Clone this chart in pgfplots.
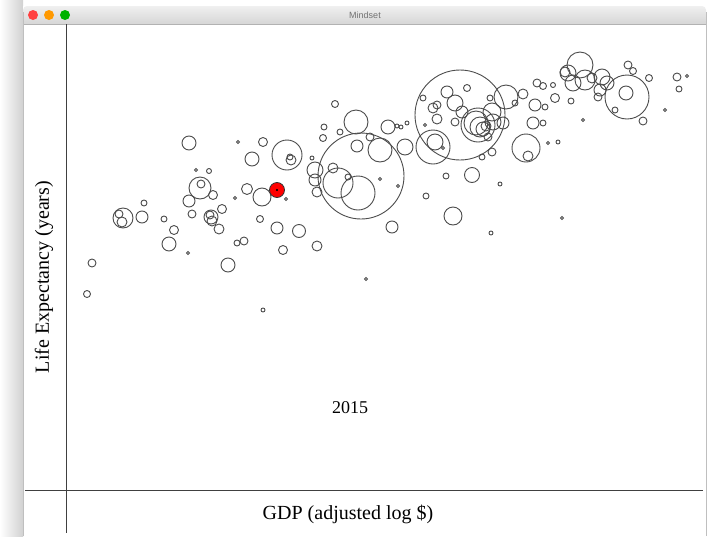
\documentclass[border=0pt]{standalone}
\usepackage{pgfplots}
\pgfplotsset{compat=1.18}
\usepackage{pgfplotstable}
\usepackage{fontspec}
\setmainfont{Liberation Serif}
\newfontfamily\uifont{Liberation Sans}

% bubbles: position (screen px) and radius (px)
\pgfplotstableread{
x y r
87 294 3.5
92 263 4
123 218 10
119 214 4
122 222 5
142 217 6
144 203 3
164 219 3
174 230 4.5
169 244 7
188 253 1.5
192 214 4
189 201 6
200 188 11
201 184 4
213 195 4.5
211 217 7
210 215 4
212 221 5
222 209 4.5
219 229 5
228 265 7
189 143 7
196 170 1.5
209 171 2.5
238 142 1.5
235 198 1.5
247 189 5.5
262 197 9
286 199 1.5
252 159 7
263 142 4.5
287 155 15
291 160 5
290 157 3
260 219 3.5
277 228 6
299 231 6.5
237 243 3
244 241 4
283 250 4.5
317 246 5
263 310 2
366 279 1.5
392 227 6
335 104 3.5
356 122 12
324 127 3
340 132 3
323 138 3.5
357 146 6
361 176 43
338 183 15
358 193 17
315 170 8
315 180 6
312 158 2
317 192 5
333 168 5
348 177 3
380 179 1.5
398 186 1.5
388 127 7
380 150 12
370 137 4
397 126 2
401 127 2
407 123 2
405 147 8
426 196 3
446 176 3
472 175 7.5
453 216 9
500 184 2
491 233 2
562 218 1.5
433 147 17
435 142 8
443 148 1.5
425 125 1.5
460 115 45
447 92 6
467 88 3.5
423 98 3
437 105 4
433 108 5
455 103 8
437 119 5
455 122 4
462 112 6
478 125 17
476 123 12
480 127 10
483 129 7
486 126 5
492 112 9
506 97 12
493 122 8
503 123 6
488 137 4
492 152 4
482 157 3
490 98 3
523 94 5
515 103 3
535 105 6
533 123 6
543 123 3
526 148 14
528 156 5
537 83 4
543 86 3.5
555 98 4.5
571 101 3
553 85 2.5
545 107 3
548 143 1.5
558 142 2
583 120 1.5
580 65 13
568 73 8
565 72 5
585 80 10
573 83 8
602 77 8
607 83 7
600 90 6
598 97 4
592 78 5
627 97 22
626 93 7
628 65 4
633 71 3.5
649 78 3.5
677 77 4
687 76 1.5
679 89 3
615 110 3
643 121 4
665 110 1.5
}\bubbles

\begin{document}
\begin{tikzpicture}
\begin{axis}[
    width=710pt, height=536pt, scale only axis,
    xmin=0, xmax=710, ymin=0, ymax=536,
    y dir=reverse,
    hide axis, clip=false,
]
% desktop + window
\fill[white] (axis cs:0,0) rectangle (axis cs:710,536);
\shade[left color=white, right color=black!18] (axis cs:0,0) rectangle (axis cs:23,536);
\fill[white] (axis cs:23,6) rectangle (axis cs:706,536);
\shade[top color=black!6, bottom color=black!16]
    (axis cs:23,24) [rounded corners=4pt] -- (axis cs:23,6) -- (axis cs:706,6) [sharp corners] -- (axis cs:706,24) -- cycle;
\draw[black!30] (axis cs:23,24) -- (axis cs:706,24);
\draw[black!25] (axis cs:23,536) -- (axis cs:23,12);
\draw[black!25] (axis cs:706,536) -- (axis cs:706,12);
\fill[red!75!white] (axis cs:33,15) circle[radius=5pt];
\fill[orange!80!yellow] (axis cs:49,15) circle[radius=5pt];
\fill[green!70!black] (axis cs:65,15) circle[radius=5pt];
\node[text=black!55] at (axis cs:365,15) {\uifont\fontsize{9}{10}\selectfont Mindset};

% frame lines
\draw[black!75, line width=0.8pt] (axis cs:66,24) -- (axis cs:66,533);
\draw[black!75, line width=0.8pt] (axis cs:25,490) -- (axis cs:703,490);

\addplot[scatter, only marks, mark=o, line width=0.9pt,
    scatter/use mapped color={draw=black!70},
    visualization depends on={\thisrow{r} \as \rad},
    scatter/@pre marker code/.append style={/tikz/mark size=\rad pt}]
    table[x=x, y=y] {\bubbles};

\addplot[only marks, mark=*, mark size=7.5pt, draw=black!80, fill=red, line width=0.8pt]
    coordinates {(277,190)};
\addplot[only marks, mark=*, mark size=0.8pt, black] coordinates {(277,190)};

\node at (axis cs:350,408) {\fontsize{18}{20}\selectfont 2015};
\node at (axis cs:348,514) {\fontsize{20}{22}\selectfont GDP (adjusted log \$)};
\node[rotate=90] at (axis cs:44,277) {\fontsize{20}{22}\selectfont Life Expectancy (years)};
\end{axis}
\end{tikzpicture}
\end{document}
